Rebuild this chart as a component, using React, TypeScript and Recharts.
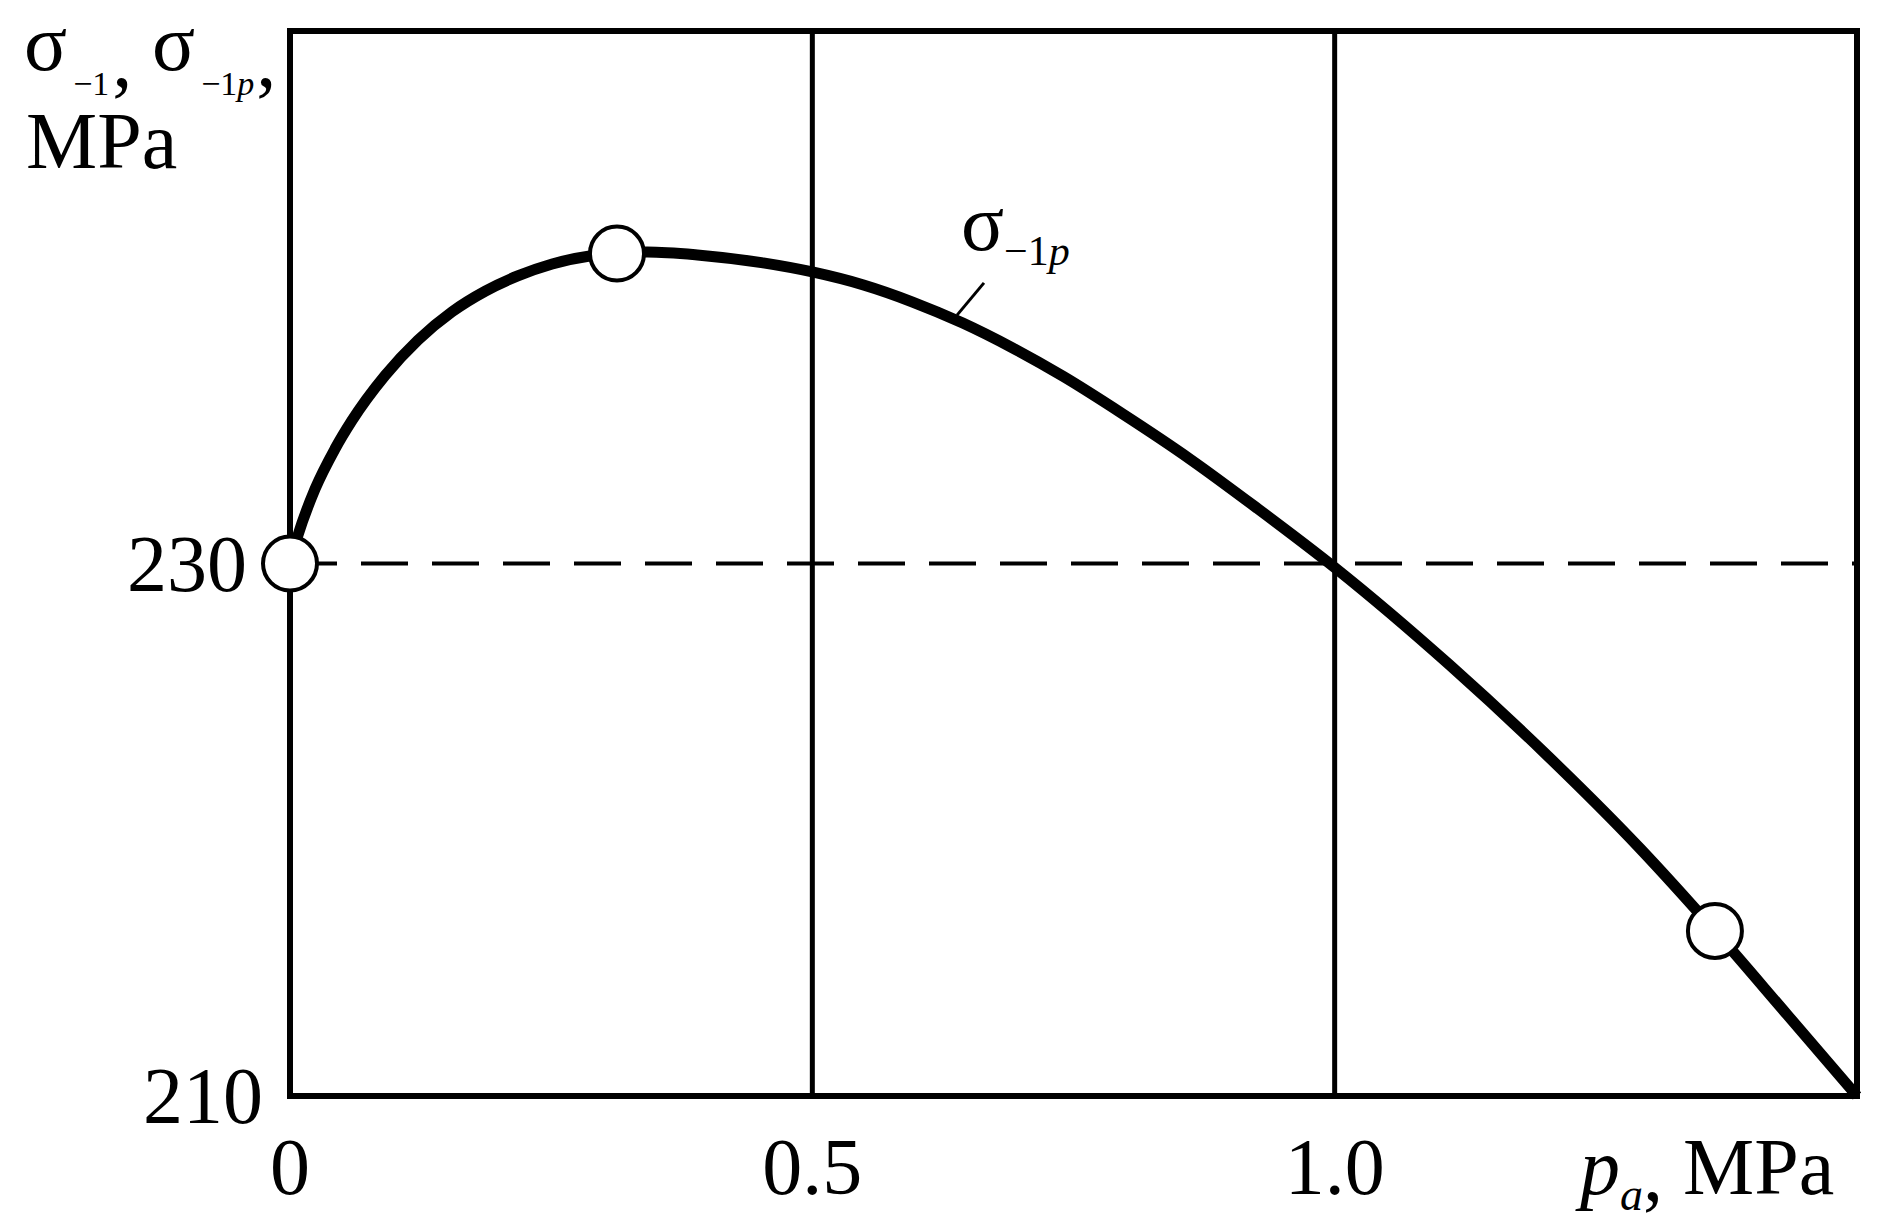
import { ComposedChart, Line, Scatter, XAxis, YAxis, ReferenceLine, ReferenceArea } from 'recharts';

// p_a, MPa
const pressure = [
  0, 0.0077, 0.024, 0.043, 0.059, 0.091, 0.1225, 0.155, 0.187, 0.218, 0.251, 0.287, 0.313, 0.342, 0.39, 0.453,
  0.5, 0.549, 0.596, 0.644, 0.692, 0.74, 0.797, 0.862, 0.926, 1.0, 1.11, 1.2, 1.292, 1.364, 1.433, 1.5,
];
// sigma_-1p, MPa
const sigma = [
  230, 231.07, 232.8, 234.3, 235.35, 237.06, 238.39, 239.45, 240.23, 240.8, 241.25, 241.55, 241.64, 241.7, 241.59,
  241.29, 240.95, 240.46, 239.82, 239.03, 238.09, 237.03, 235.62, 233.91, 232.07, 229.85, 226.19, 222.92, 219.31,
  216.2, 213.06, 210,
];

// experimental points (open circles)
const markerX = [0, 0.313, 1.364];
const markerY = [230, 241.64, 216.2];

const xTicks = [0, 0.5, 1.0];
const xTickLabels = ['0', '0.5', '1.0'];
const yTicks = [210, 230];
const gridX = [0.5, 1.0];
const baseLevel = 230;

// leader line for the curve label
const leader = [
  { x: 0.6385, y: 239.33 },
  { x: 0.6643, y: 240.54 },
];

const curve = pressure.map((x, i) => ({ x, y: sigma[i] }));
const markers = markerX.map((x, i) => ({ x, y: markerY[i] }));

const FONT = '"Liberation Serif", "Times New Roman", serif';

const XTick = ({ x, y, payload }: any) => {
  const i = xTicks.indexOf(payload.value);
  return (
    <text x={x} y={y + 98} textAnchor='middle' fontSize={80} fontFamily={FONT} fill='#000'>
      {xTickLabels[i]}
    </text>
  );
};

const YTick = ({ x, y, payload }: any) => (
  // 230 sits a bit further left, clear of the open circle
  <text x={x - (payload.value === baseLevel ? 43 : 27)} y={y + 27} textAnchor='end' fontSize={80} fontFamily={FONT} fill='#000'>
    {payload.value}
  </text>
);

const OpenCircle = (props: any) => (
  <circle cx={props.cx} cy={props.cy} r={27} fill='#fff' stroke='#000' strokeWidth={4} />
);

export default function App() {
  return (
    <div style={{ position: 'absolute', left: 0, top: 0, width: 1886, height: 1230, background: '#fff', overflow: 'hidden' }}>
      <ComposedChart width={1886} height={1230} margin={{ top: 31, right: 29, bottom: 104, left: 230 }}>
        <XAxis
          type='number'
          dataKey='x'
          domain={[0, 1.5]}
          ticks={xTicks}
          tick={<XTick />}
          tickLine={false}
          axisLine={false}
          tickSize={0}
          tickMargin={0}
          height={30}
        />
        <YAxis
          type='number'
          dataKey='y'
          domain={[210, 250]}
          ticks={yTicks}
          tick={<YTick />}
          tickLine={false}
          axisLine={false}
          tickSize={0}
          tickMargin={0}
          width={60}
        />
        {gridX.map((v) => (
          <ReferenceLine key={v} x={v} stroke='#000' strokeWidth={5} />
        ))}
        <ReferenceLine y={baseLevel} stroke='#000' strokeWidth={4} strokeDasharray='47 24' />
        <ReferenceArea x1={0} x2={1.5} y1={210} y2={250} fill='none' fillOpacity={0} stroke='#000' strokeWidth={6} />
        <ReferenceLine segment={leader} stroke='#000' strokeWidth={3} />
        <Line
          data={curve}
          type='monotone'
          dataKey='y'
          stroke='#000'
          strokeWidth={11}
          dot={false}
          activeDot={false}
          isAnimationActive={false}
        />
        <Scatter data={markers} dataKey='y' shape={<OpenCircle />} isAnimationActive={false} />
      </ComposedChart>

      <svg
        width={1886}
        height={1230}
        style={{ position: 'absolute', left: 0, top: 0, pointerEvents: 'none' }}
        fontFamily={FONT}
        fill='#000'
      >
        {/* y-axis title */}
        <text fontSize={80}>
          <tspan x={24} y={70}>σ</tspan>
          <tspan y={95} dx={6} fontSize={34}>−1</tspan>
          <tspan y={86} dx={3}>,</tspan>
          <tspan x={152} y={70}>σ</tspan>
          <tspan y={95} dx={6} fontSize={34}>−1</tspan>
          <tspan fontSize={34} fontStyle='italic'>p</tspan>
          <tspan y={86} dx={2}>,</tspan>
        </text>
        <text x={26} y={168} fontSize={80}>MPa</text>

        {/* curve label */}
        <text fontSize={80}>
          <tspan x={961} y={250}>σ</tspan>
          <tspan x={1004} y={265} fontSize={42}>−1</tspan>
          <tspan fontSize={42} fontStyle='italic'>p</tspan>
        </text>

        {/* x-axis title */}
        <text fontSize={80}>
          <tspan x={1580} y={1194} fontStyle='italic'>p</tspan>
          <tspan y={1210} fontSize={46} fontStyle='italic'>a</tspan>
          <tspan y={1200}>,</tspan>
          <tspan y={1194}> MPa</tspan>
        </text>
      </svg>
    </div>
  );
}
